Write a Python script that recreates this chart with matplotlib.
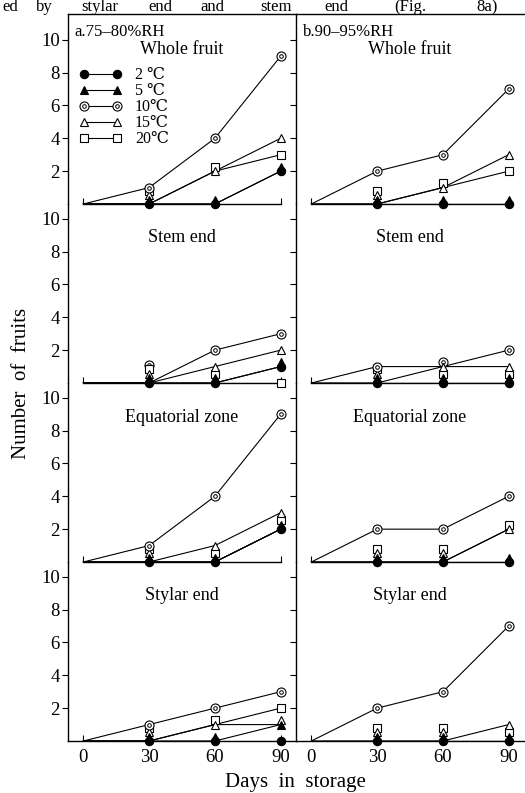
import matplotlib
matplotlib.use('Agg')
import matplotlib.pyplot as plt
from matplotlib.transforms import offset_copy
from matplotlib.lines import Line2D
from matplotlib.legend_handler import HandlerTuple

plt.rcParams['font.family'] = ['Liberation Serif', 'DejaVu Serif', 'Noto Sans CJK JP']

days = [0, 30, 60, 90]
day_ticks = ['0', '30', '60', '90']
y_ticks = [2, 4, 6, 8, 10]
temps = ['2 ℃', '5 ℃', '10℃', '15℃', '20℃']
panels = ['Whole fruit', 'Stem end', 'Equatorial zone', 'Stylar end']
humidity = ['a.75–80%RH', 'b.90–95%RH']
caption_words = ['ed', 'by', 'stylar', 'end', 'and', 'stem', 'end', '(Fig.', '8a)']

# a. 75-80 % RH
a_whole_2c = [0, 0, 0, 2]
a_whole_5c = [0, 0, 0, 2]
a_whole_10c = [0, 1, 4, 9]
a_whole_15c = [0, 0, 2, 4]
a_whole_20c = [0, 0, 2, 3]

a_stem_2c = [0, 0, 0, 1]
a_stem_5c = [0, 0, 0, 1]
a_stem_10c = [0, 0, 2, 3]
a_stem_15c = [0, 0, 1, 2]
a_stem_20c = [0, 0, 0, 0]

a_equa_2c = [0, 0, 0, 2]
a_equa_5c = [0, 0, 0, 2]
a_equa_10c = [0, 1, 4, 9]
a_equa_15c = [0, 0, 1, 3]
a_equa_20c = [0, 0, 0, 2]

a_styl_2c = [0, 0, 0, 0]
a_styl_5c = [0, 0, 0, 1]
a_styl_10c = [0, 1, 2, 3]
a_styl_15c = [0, 0, 1, 1]
a_styl_20c = [0, 0, 1, 2]

# b. 90-95 % RH
b_whole_2c = [0, 0, 0, 0]
b_whole_5c = [0, 0, 0, 0]
b_whole_10c = [0, 2, 3, 7]
b_whole_15c = [0, 0, 1, 3]
b_whole_20c = [0, 0, 1, 2]

b_stem_2c = [0, 0, 0, 0]
b_stem_5c = [0, 0, 0, 0]
b_stem_10c = [0, 1, 1, 2]
b_stem_15c = [0, 0, 1, 1]
b_stem_20c = [0, 0, 0, 0]

b_equa_2c = [0, 0, 0, 0]
b_equa_5c = [0, 0, 0, 0]
b_equa_10c = [0, 2, 2, 4]
b_equa_15c = [0, 0, 0, 2]
b_equa_20c = [0, 0, 0, 2]

b_styl_2c = [0, 0, 0, 0]
b_styl_5c = [0, 0, 0, 0]
b_styl_10c = [0, 2, 3, 7]
b_styl_15c = [0, 0, 0, 1]
b_styl_20c = [0, 0, 0, 0]

data = [
    [[a_whole_2c, a_whole_5c, a_whole_10c, a_whole_15c, a_whole_20c],
     [b_whole_2c, b_whole_5c, b_whole_10c, b_whole_15c, b_whole_20c]],
    [[a_stem_2c, a_stem_5c, a_stem_10c, a_stem_15c, a_stem_20c],
     [b_stem_2c, b_stem_5c, b_stem_10c, b_stem_15c, b_stem_20c]],
    [[a_equa_2c, a_equa_5c, a_equa_10c, a_equa_15c, a_equa_20c],
     [b_equa_2c, b_equa_5c, b_equa_10c, b_equa_15c, b_equa_20c]],
    [[a_styl_2c, a_styl_5c, a_styl_10c, a_styl_15c, a_styl_20c],
     [b_styl_2c, b_styl_5c, b_styl_10c, b_styl_15c, b_styl_20c]],
]

W, H = 525, 793
fig = plt.figure(figsize=(W / 100, H / 100), dpi=100)

# marker styles per temperature (2,5,10,15,20)
styles = [
    dict(marker='o', mfc='black', mec='black', ms=6),
    dict(marker='^', mfc='black', mec='black', ms=6),
    dict(marker='o', mfc='white', mec='black', ms=6.5),
    dict(marker='^', mfc='white', mec='black', ms=6),
    dict(marker='s', mfc='white', mec='black', ms=5.5),
]
stack_order = [0, 1, 3, 4, 2]
LW = 0.8

left_x = 68
col_w = 228
row_bottoms = [204, 383, 562, 741]
row_h = 179
units = 10.9

axes = []
for r in range(4):
    for c in range(2):
        x0 = left_x + c * col_w
        top = row_bottoms[r] - row_h if r > 0 else 14
        hgt = row_bottoms[r] - top
        ax = fig.add_axes([x0 / W, (H - row_bottoms[r]) / H, col_w / W, hgt / H])
        ax.set_xlim(-7, 97)
        ax.set_ylim(0, units * hgt / row_h)
        ax.patch.set_alpha(0)
        ax.spines['right'].set_visible(False)
        ax.spines['top'].set_visible(r == 0)
        ax.spines['left'].set_linewidth(1.0)
        ax.spines['top'].set_linewidth(1.0)
        ax.spines['bottom'].set_linewidth(1.0)
        if r < 3:
            ax.spines['bottom'].set_bounds(0, 90)
        ax.set_xticks(days)
        ax.tick_params(axis='x', direction='in', length=4, width=0.8,
                       labelbottom=(r == 3), labelsize=13.5, pad=6)
        if r == 3:
            ax.set_xticklabels(day_ticks)
        ax.set_yticks(y_ticks)
        ax.tick_params(axis='y', direction='out', length=4, width=0.8,
                       labelleft=(c == 0), labelsize=13.5, pad=2)

        series = data[r][c]
        for s in range(5):
            ax.plot(days, series[s], color='black', lw=LW, zorder=2)
        # markers, stacked slightly where points coincide
        for i in range(1, 4):
            seen = []
            for s in stack_order:
                v = series[s][i]
                k = seen.count(v)
                seen.append(v)
                tr = offset_copy(ax.transData, fig=fig, x=0, y=4.5 * k, units='dots')
                z = 5 - k
                st = styles[s]
                ax.plot([days[i]], [v], transform=tr, linestyle='none',
                        mew=0.8, zorder=z, clip_on=False, **st)
                if s == 2:
                    ax.plot([days[i]], [v], transform=tr, linestyle='none',
                            marker='o', mfc='white', mec='black', ms=2.6,
                            mew=0.7, zorder=z + 0.1, clip_on=False)

        ax.text(0.5, 1 - 34 / hgt if r > 0 else 1 - 36 / hgt, panels[r],
                transform=ax.transAxes, ha='center', va='center', fontsize=13)
        if r == 0:
            ax.text(0.03, 1 - 18 / hgt, humidity[c],
                    transform=ax.transAxes, ha='left', va='center', fontsize=12)
        axes.append(ax)

# legend
ax0 = axes[0]
handles = []
for s in range(5):
    st = styles[s]
    h1 = Line2D([], [], color='black', lw=LW, mew=0.8, **st)
    if s == 2:
        h2 = Line2D([], [], color='black', lw=0, marker='o', mfc='white',
                    mec='black', ms=2.6, mew=0.7)
        handles.append((h1, h2))
    else:
        handles.append(h1)
ax0.legend(handles, temps, loc='upper left',
           bbox_to_anchor=(0.02, 1 - 47 / 190), frameon=False, numpoints=2,
           handlelength=2.7, handletextpad=0.8, labelspacing=0.0,
           fontsize=11.5, borderaxespad=0,
           handler_map={tuple: HandlerTuple(ndivide=1)})

fig.text(22 / W, 1 - 383 / H, 'Number  of  fruits', rotation=90,
         ha='center', va='center', fontsize=15)
fig.text(295 / W, 1 - 782 / H, 'Days  in  storage', ha='center', va='center',
         fontsize=15)

# caption line above the figure (words spread like the scan)
caption_x = [10, 44, 100, 160, 212, 276, 336, 410, 487]
for wtxt, wx in zip(caption_words, caption_x):
    fig.text(wx / W, 1 - 11 / H, wtxt, ha='center', va='baseline', fontsize=12)

fig.savefig('out.png', dpi=100)
